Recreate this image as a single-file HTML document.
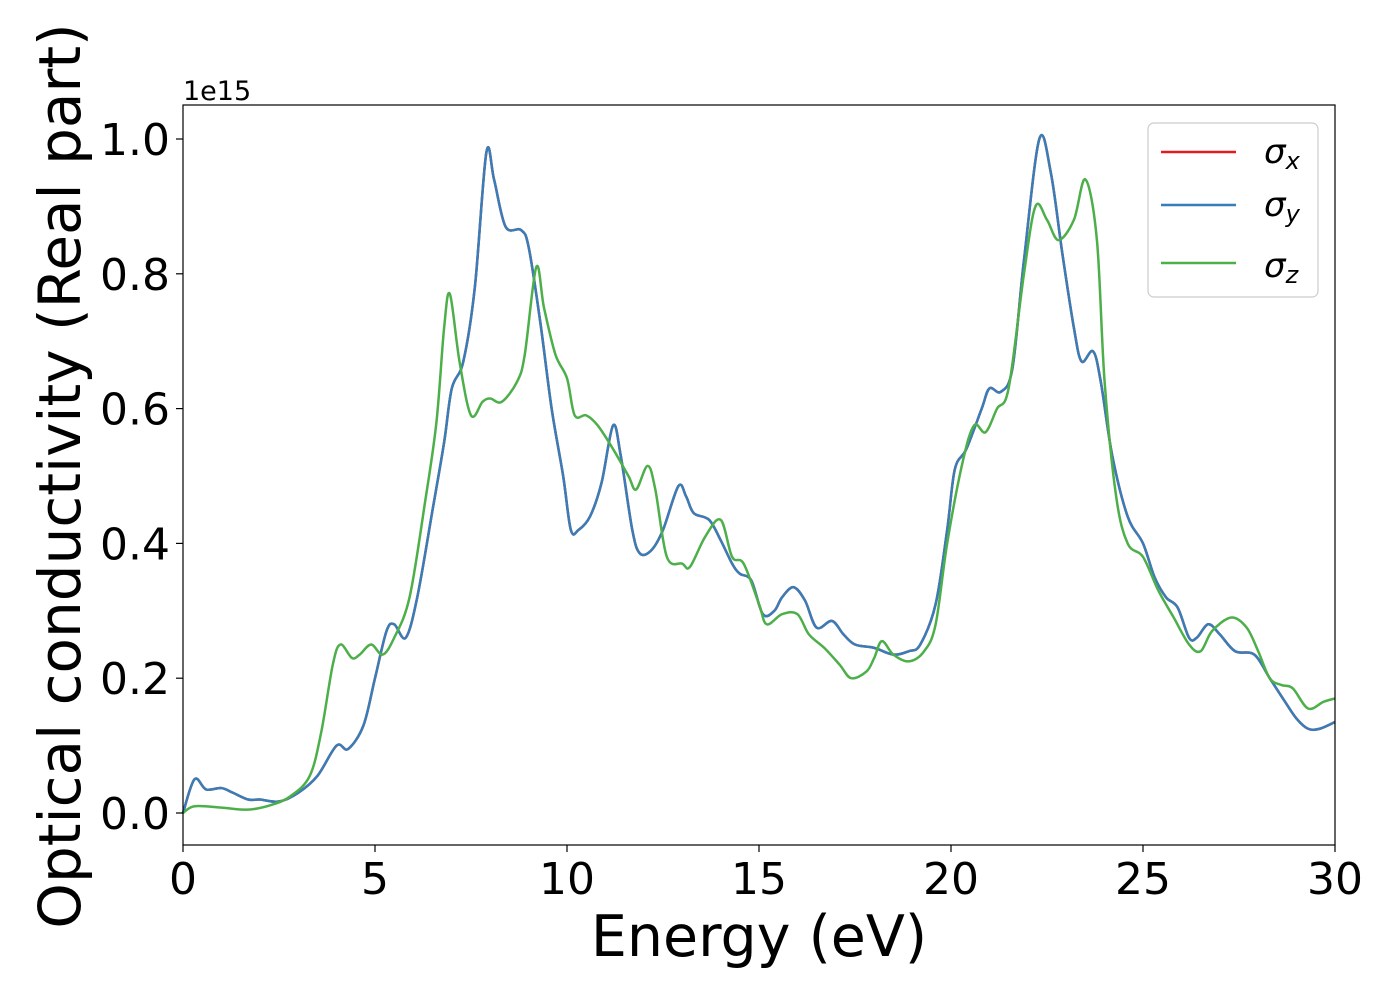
<!DOCTYPE html>
<html><head><meta charset="utf-8"><style>
body{margin:0;background:#fff;}
svg text{font-family:"DejaVu Sans","Liberation Sans",sans-serif;fill:#000;}
</style></head><body>
<svg id="chart" width="1400" height="1000" xmlns="http://www.w3.org/2000/svg">
<g id="grid"></g>
<g id="series"></g>
<rect x="183" y="105" width="1152" height="740" fill="none" stroke="#000" stroke-width="1.2"/>
<g id="axes"></g>
<text x="183" y="100" font-size="27">1e15</text>
<text x="759" y="956" font-size="57" text-anchor="middle">Energy (eV)</text>
<text transform="translate(80,476) rotate(-90)" font-size="58" text-anchor="middle">Optical conductivity (Real part)</text>
<g>
<rect x="1148" y="123" width="170" height="174" rx="6" fill="#fff" fill-opacity="0.8" stroke="#ccc" stroke-width="1.2"/>
<line x1="1161" y1="152" x2="1236" y2="152" stroke="#e41a1c" stroke-width="2.5"/>
<text x="1264" y="163" font-size="34" font-style="italic">σ<tspan font-size="24" dy="6">x</tspan></text>
<line x1="1161" y1="205" x2="1236" y2="205" stroke="#377eb8" stroke-width="2.5"/>
<text x="1264" y="216" font-size="34" font-style="italic">σ<tspan font-size="24" dy="6">y</tspan></text>
<line x1="1161" y1="263" x2="1236" y2="263" stroke="#4daf4a" stroke-width="2.5"/>
<text x="1264" y="277" font-size="34" font-style="italic">σ<tspan font-size="24" dy="6">z</tspan></text>
</g>
</svg>
<script>
const xTicks=[0,5,10,15,20,25,30];
const yTicks=[0.0,0.2,0.4,0.6,0.8,1.0];
const yTickLabels=["0.0","0.2","0.4","0.6","0.8","1.0"];
const energyXY=[0,0.3,0.6,1.0,1.3,1.7,2.0,2.5,3.0,3.5,4.0,4.3,4.7,5.0,5.3,5.5,5.8,6.1,6.5,6.8,7.0,7.3,7.6,7.9,8.1,8.4,8.8,9.0,9.3,9.6,9.9,10.1,10.3,10.6,10.9,11.2,11.4,11.7,11.9,12.2,12.5,12.9,13.1,13.3,13.7,14.0,14.3,14.5,14.8,15.1,15.4,15.6,15.9,16.2,16.5,16.9,17.2,17.5,18,18.5,18.9,19.2,19.6,19.9,20.1,20.4,20.8,21.0,21.3,21.6,21.9,22.3,22.6,22.9,23.2,23.4,23.7,23.9,24.2,24.6,25,25.3,25.6,25.9,26.2,26.4,26.7,27.0,27.4,27.9,28.3,28.7,29.0,29.3,29.6,30];
const sigmaY=[0,0.05,0.035,0.037,0.03,0.02,0.02,0.017,0.03,0.055,0.1,0.095,0.13,0.2,0.27,0.28,0.26,0.32,0.45,0.55,0.63,0.67,0.78,0.98,0.94,0.87,0.865,0.84,0.73,0.6,0.5,0.42,0.42,0.44,0.49,0.575,0.53,0.42,0.385,0.39,0.42,0.485,0.47,0.445,0.435,0.405,0.37,0.355,0.345,0.295,0.3,0.32,0.335,0.315,0.275,0.285,0.265,0.25,0.245,0.235,0.24,0.25,0.31,0.42,0.51,0.54,0.6,0.63,0.625,0.66,0.82,1.0,0.95,0.83,0.72,0.67,0.685,0.64,0.53,0.44,0.4,0.35,0.32,0.305,0.26,0.26,0.28,0.265,0.24,0.235,0.2,0.165,0.14,0.125,0.125,0.135];
const sigmaX=sigmaY.slice();
const energyZ=[0,0.3,1,1.7,2.3,2.8,3.3,3.6,3.9,4.1,4.4,4.6,4.9,5.2,5.5,5.9,6.3,6.6,6.8,6.95,7.2,7.5,7.8,8.0,8.3,8.7,8.9,9.2,9.4,9.7,10.0,10.2,10.5,10.8,11.2,11.6,11.8,12.1,12.3,12.6,13.0,13.2,13.6,14.0,14.3,14.6,15.0,15.2,15.6,16.0,16.3,16.7,17.1,17.4,17.8,18.0,18.2,18.5,18.9,19.3,19.6,19.9,20.3,20.6,20.9,21.2,21.5,21.9,22.2,22.5,22.8,23.2,23.5,23.8,24.0,24.3,24.6,25.0,25.4,25.8,26.2,26.5,26.8,27.3,27.7,28.0,28.3,28.6,28.9,29.3,29.7,30];
const sigmaZ=[0,0.01,0.008,0.005,0.012,0.025,0.055,0.12,0.22,0.25,0.23,0.235,0.25,0.235,0.26,0.32,0.46,0.58,0.72,0.77,0.67,0.59,0.61,0.615,0.61,0.64,0.68,0.81,0.75,0.68,0.645,0.59,0.59,0.575,0.54,0.5,0.48,0.515,0.48,0.38,0.37,0.365,0.41,0.435,0.38,0.37,0.31,0.28,0.295,0.295,0.265,0.245,0.22,0.2,0.21,0.23,0.255,0.235,0.225,0.24,0.28,0.4,0.52,0.575,0.565,0.6,0.63,0.8,0.9,0.88,0.85,0.88,0.94,0.85,0.64,0.47,0.4,0.38,0.33,0.29,0.25,0.24,0.27,0.29,0.275,0.24,0.2,0.19,0.185,0.155,0.165,0.17];

const NS="http://www.w3.org/2000/svg";
const X0=183,X1=1335,Y0=813,Y1=139;
function sx(e){return X0+(e-0)/(30-0)*(X1-X0);}
function sy(v){return Y0+(v-0)/(1-0)*(Y1-Y0);}
function mk(tag,attrs,parent){const el=document.createElementNS(NS,tag);for(const k in attrs)el.setAttribute(k,attrs[k]);parent.appendChild(el);return el;}
const axes=document.getElementById('axes');
xTicks.forEach(t=>{
  const l=mk('line',{x1:sx(t),x2:sx(t),y1:845,y2:852,stroke:'#000','stroke-width':1.2},axes);
  
  
  const tx=mk('text',{x:sx(t),y:894,'font-size':44,'text-anchor':'middle'},axes);
  tx.textContent=String(t);
  
  
});
yTicks.forEach((t,i)=>{
  const l=mk('line',{x1:176,x2:183,y1:sy(t),y2:sy(t),stroke:'#000','stroke-width':1.2},axes);
  
  
  const tx=mk('text',{x:170,y:sy(t)+16,'font-size':44,'text-anchor':'end'},axes);
  tx.textContent=yTickLabels[i];
  
  
});
function smoothPath(xs,ys){
  const p=xs.map((e,i)=>[sx(e),sy(ys[i])]);
  let d=`M${p[0][0]},${p[0][1]}`;
  for(let i=0;i<p.length-1;i++){
    const a=p[Math.max(0,i-1)],b=p[i],c=p[i+1],n=p[Math.min(p.length-1,i+2)];
    const c1=[b[0]+(c[0]-a[0])/6,b[1]+(c[1]-a[1])/6];
    const c2=[c[0]-(n[0]-b[0])/6,c[1]-(n[1]-b[1])/6];
    d+=` C${c1[0]},${c1[1]} ${c2[0]},${c2[1]} ${c[0]},${c[1]}`;
  }
  return d;
}
const g=document.getElementById('series');
const px=mk('path',{d:smoothPath(energyXY,sigmaX),fill:'none',stroke:'#e41a1c','stroke-width':2.5},g);


const py=mk('path',{d:smoothPath(energyXY,sigmaY),fill:'none',stroke:'#377eb8','stroke-width':2.5},g);


const pz=mk('path',{d:smoothPath(energyZ,sigmaZ),fill:'none',stroke:'#4daf4a','stroke-width':2.5},g);


</script>
</body></html>
